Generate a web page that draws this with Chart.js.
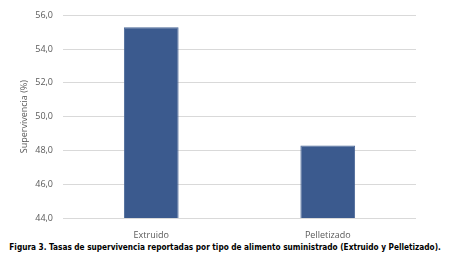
<!DOCTYPE html>
<html>
<head>
<meta charset="utf-8">
<script src="https://cdn.jsdelivr.net/npm/chart.js@4/dist/chart.umd.min.js"></script>
<style>
  html, body { margin: 0; padding: 0; background: #fff; }
  #wrap { position: relative; width: 450px; height: 240px; }
  #caption {
    width: 450px; display: flex; justify-content: center; white-space: nowrap;
    margin-top: 1px;
    font-family: "DejaVu Sans Condensed", "DejaVu Sans", sans-serif;
    font-weight: bold; font-size: 9px; line-height: 12px; color: #000;
  }
  #caption span { display: inline-block; flex: none; transform: scaleX(0.91); transform-origin: center; }
</style>
</head>
<body>
<div id="wrap"><canvas id="chart" width="450" height="240"></canvas></div>
<div id="caption"><span>Figura 3. Tasas de supervivencia reportadas por tipo de alimento suministrado (Extruido y Pelletizado).</span></div>
<script>
// Survival rates by feed type
const categories = ['Extruido', 'Pelletizado'];
const survival = [55.3, 48.3];
const yTicks = [44, 46, 48, 50, 52, 54, 56];

const tickFont = { family: 'Open Sans, Liberation Sans, sans-serif', size: 9 };

new Chart(document.getElementById('chart').getContext('2d'), {
    type: 'bar',
    data: {
        labels: categories,
        datasets: [{
            data: survival,
            backgroundColor: '#3B5A8E',
            borderColor: '#4A6797',
            borderWidth: 1,
            barPercentage: 0.31,
            categoryPercentage: 1.0
        }]
    },
    options: {
        responsive: false,
        animation: false,
        layout: { padding: { left: 19, right: 34, top: 15, bottom: 0 } },
        plugins: { legend: { display: false }, tooltip: { enabled: false } },
        scales: {
            x: {
                grid: { display: false },
                border: { display: false },
                ticks: { color: '#595959', font: tickFont, padding: 4 },
                afterFit(scale) { scale.height = 22; }
            },
            y: {
                min: 44,
                max: 56,
                afterBuildTicks(scale) { scale.ticks = yTicks.map(v => ({ value: v })); },
                grid: { color: '#D9D9D9', lineWidth: 1, drawTicks: false },
                border: { display: false },
                ticks: {
                    color: '#595959', font: tickFont, padding: 10,
                    callback: v => v.toFixed(1).replace('.', ',')
                },
                title: {
                    display: true, text: 'Supervivencia (%)', color: '#595959',
                    font: { family: 'Open Sans, Liberation Sans, sans-serif', size: 9 },
                    padding: { top: 0, bottom: 0 }
                },
                afterFit(scale) { scale.width = 44; }
            }
        }
    }
});
</script>
</body>
</html>
